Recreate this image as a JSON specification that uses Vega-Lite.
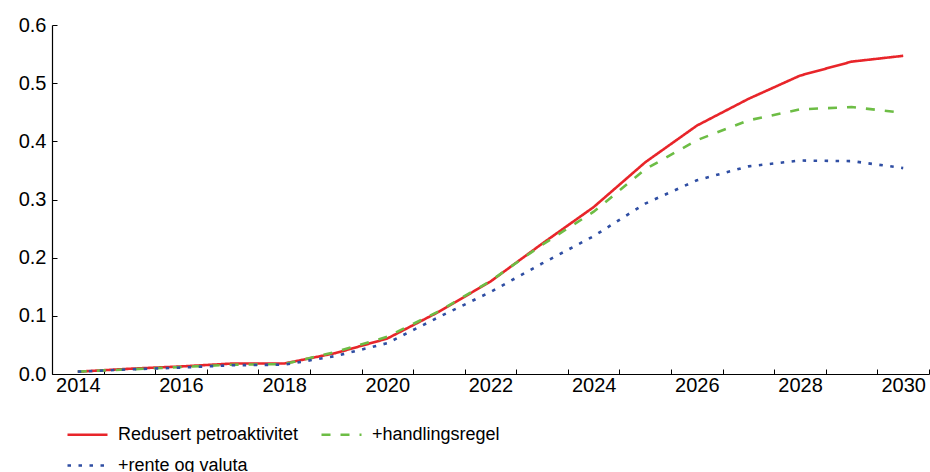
{
  "$schema": "https://vega.github.io/schema/vega-lite/v6.json",
  "width": 877,
  "height": 349,
  "autosize": "none",
  "padding": {"left": 52, "top": 25, "right": 1, "bottom": 98},
  "background": "white",
  "config": {
    "font": "Liberation Sans",
    "view": {"stroke": null},
    "axis": {"labelFont": "Liberation Sans", "labelFontSize": 20, "labelColor": "#000", "domainColor": "#000", "tickColor": "#000", "grid": false}
  },
  "data": {"values": [
    {"year": 2014, "series": "Redusert petroaktivitet", "value": 0.004},
    {"year": 2015, "series": "Redusert petroaktivitet", "value": 0.009},
    {"year": 2016, "series": "Redusert petroaktivitet", "value": 0.013},
    {"year": 2017, "series": "Redusert petroaktivitet", "value": 0.018},
    {"year": 2018, "series": "Redusert petroaktivitet", "value": 0.018},
    {"year": 2019, "series": "Redusert petroaktivitet", "value": 0.036},
    {"year": 2020, "series": "Redusert petroaktivitet", "value": 0.061},
    {"year": 2021, "series": "Redusert petroaktivitet", "value": 0.107},
    {"year": 2022, "series": "Redusert petroaktivitet", "value": 0.159},
    {"year": 2023, "series": "Redusert petroaktivitet", "value": 0.224},
    {"year": 2024, "series": "Redusert petroaktivitet", "value": 0.287},
    {"year": 2025, "series": "Redusert petroaktivitet", "value": 0.364},
    {"year": 2026, "series": "Redusert petroaktivitet", "value": 0.427},
    {"year": 2027, "series": "Redusert petroaktivitet", "value": 0.473},
    {"year": 2028, "series": "Redusert petroaktivitet", "value": 0.513},
    {"year": 2029, "series": "Redusert petroaktivitet", "value": 0.537},
    {"year": 2030, "series": "Redusert petroaktivitet", "value": 0.547},
    {"year": 2014, "series": "+handlingsregel", "value": 0.004},
    {"year": 2015, "series": "+handlingsregel", "value": 0.008},
    {"year": 2016, "series": "+handlingsregel", "value": 0.012},
    {"year": 2017, "series": "+handlingsregel", "value": 0.016},
    {"year": 2018, "series": "+handlingsregel", "value": 0.017},
    {"year": 2019, "series": "+handlingsregel", "value": 0.038},
    {"year": 2020, "series": "+handlingsregel", "value": 0.064},
    {"year": 2021, "series": "+handlingsregel", "value": 0.108},
    {"year": 2022, "series": "+handlingsregel", "value": 0.16},
    {"year": 2023, "series": "+handlingsregel", "value": 0.222},
    {"year": 2024, "series": "+handlingsregel", "value": 0.279},
    {"year": 2025, "series": "+handlingsregel", "value": 0.352},
    {"year": 2026, "series": "+handlingsregel", "value": 0.402},
    {"year": 2027, "series": "+handlingsregel", "value": 0.436},
    {"year": 2028, "series": "+handlingsregel", "value": 0.455},
    {"year": 2029, "series": "+handlingsregel", "value": 0.459},
    {"year": 2030, "series": "+handlingsregel", "value": 0.449},
    {"year": 2014, "series": "+rente og valuta", "value": 0.004},
    {"year": 2015, "series": "+rente og valuta", "value": 0.008},
    {"year": 2016, "series": "+rente og valuta", "value": 0.011},
    {"year": 2017, "series": "+rente og valuta", "value": 0.015},
    {"year": 2018, "series": "+rente og valuta", "value": 0.016},
    {"year": 2019, "series": "+rente og valuta", "value": 0.031},
    {"year": 2020, "series": "+rente og valuta", "value": 0.053},
    {"year": 2021, "series": "+rente og valuta", "value": 0.098},
    {"year": 2022, "series": "+rente og valuta", "value": 0.141},
    {"year": 2023, "series": "+rente og valuta", "value": 0.19},
    {"year": 2024, "series": "+rente og valuta", "value": 0.237},
    {"year": 2025, "series": "+rente og valuta", "value": 0.293},
    {"year": 2026, "series": "+rente og valuta", "value": 0.333},
    {"year": 2027, "series": "+rente og valuta", "value": 0.357},
    {"year": 2028, "series": "+rente og valuta", "value": 0.367},
    {"year": 2029, "series": "+rente og valuta", "value": 0.366},
    {"year": 2030, "series": "+rente og valuta", "value": 0.354}
  ]},
  "resolve": {"axis": {"x": "independent"}},
  "layer": [
    {
      "mark": {"type": "rule", "opacity": 0},
      "encoding": {
        "x": {"field": "year", "type": "quantitative", "scale": {"domain": [2013.5, 2030.5], "nice": false, "zero": false},
          "axis": {"orient": "bottom", "values": [2013.5,2014.5,2015.5,2016.5,2017.5,2018.5,2019.5,2020.5,2021.5,2022.5,2023.5,2024.5,2025.5,2026.5,2027.5,2028.5,2029.5,2030.5], "labels": false, "domain": false, "ticks": true, "tickSize": -5, "title": null}}
      }
    },
    {
      "mark": {"type": "line", "strokeWidth": 2.6},
      "encoding": {
        "x": {"field": "year", "type": "quantitative",
          "axis": {"orient": "bottom", "values": [2014,2016,2018,2020,2022,2024,2026,2028,2030], "format": "d", "ticks": false, "labelPadding": 1, "labelFontSize": 20, "domainWidth": 1.2, "title": null}},
        "y": {"field": "value", "type": "quantitative", "scale": {"domain": [0, 0.6], "nice": false},
          "axis": {"values": [0, 0.1, 0.2, 0.3, 0.4, 0.5, 0.6], "format": ".1f", "tickSize": -5, "labelPadding": 11, "labelFontSize": 20, "domainWidth": 1.2, "title": null}},
        "color": {"field": "series", "type": "nominal",
          "scale": {"domain": ["Redusert petroaktivitet", "+handlingsregel", "+rente og valuta"], "range": ["#e8252a", "#6dbd45", "#2f4ea3"]},
          "legend": {"title": null, "orient": "none", "legendX": 14, "legendY": 388, "columns": 2, "direction": "horizontal",
            "labelFontSize": 18, "labelFont": "Liberation Sans", "labelColor": "#000", "labelLimit": 400, "symbolType": "stroke", "symbolSize": 1600, "symbolStrokeWidth": 2.6,
            "labelOffset": 9, "columnPadding": 17, "rowPadding": 0}},
        "strokeDash": {"field": "series", "type": "nominal",
          "scale": {"domain": ["Redusert petroaktivitet", "+handlingsregel", "+rente og valuta"], "range": [[1, 0], [9, 10], [3.5, 7.5]]},
          "legend": null}
      }
    }
  ]
}
